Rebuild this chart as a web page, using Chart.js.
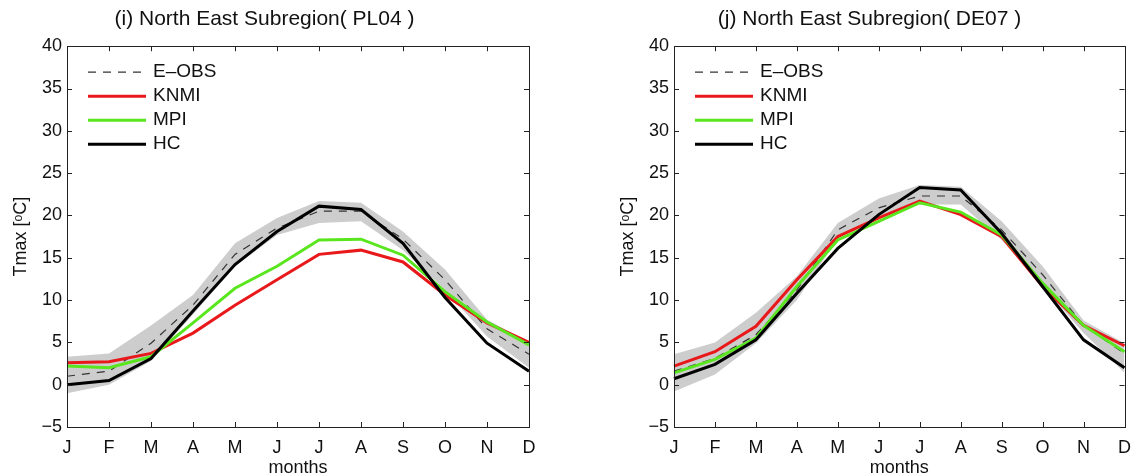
<!DOCTYPE html>
<html>
<head>
<meta charset="utf-8">
<script src="https://cdn.jsdelivr.net/npm/chart.js@4.4.1/dist/chart.umd.min.js"></script>
<style>
  html, body { margin: 0; padding: 0; background: #fff; }
  #wrap { position: relative; width: 1141px; height: 476px; overflow: hidden; }
  canvas { position: absolute; top: 0; }
  #c-left { left: 0; }
  #c-right { left: 570px; }
</style>
</head>
<body>
<div id="wrap">
  <canvas id="c-left" width="570" height="476"></canvas>
  <canvas id="c-right" width="571" height="476"></canvas>
</div>
<script>
/* Monthly Tmax climatology, North East subregion — two panels (PL04, DE07). */
const months = ['J', 'F', 'M', 'A', 'M', 'J', 'J', 'A', 'S', 'O', 'N', 'D'];
const yMin = -5, yMax = 40, yStep = 5;

// (i) PL04
const eobsPL   = [1.0, 1.6, 4.9, 9.4, 15.4, 18.5, 20.5, 20.5, 17.2, 12.4, 6.6, 3.6];
const knmiPL   = [2.6, 2.7, 3.7, 6.1, 9.4, 12.4, 15.4, 15.9, 14.5, 10.6, 7.3, 5.0];
const mpiPL    = [2.2, 2.0, 3.3, 7.3, 11.4, 14.0, 17.1, 17.2, 15.3, 11.0, 7.4, 4.7];
const hcPL     = [0.0, 0.5, 3.1, 8.7, 14.2, 18.1, 21.1, 20.7, 16.7, 10.3, 4.9, 1.6];
const bandUpPL = [3.3, 3.7, 7.0, 10.6, 16.7, 19.7, 21.7, 21.5, 18.1, 13.6, 7.7, 5.0];
const bandLoPL = [-1.0, 0.0, 2.8, 8.3, 14.0, 17.7, 19.1, 19.3, 15.9, 11.2, 5.7, 2.0];

// (j) DE07
const eobsDE   = [1.6, 3.1, 5.9, 11.2, 18.3, 20.9, 22.3, 22.3, 18.3, 13.0, 7.0, 3.7];
const knmiDE   = [2.2, 3.9, 6.9, 12.4, 17.5, 19.7, 21.7, 20.1, 17.5, 11.6, 7.0, 4.6];
const mpiDE    = [1.4, 3.0, 5.5, 11.6, 17.1, 19.3, 21.5, 20.4, 17.7, 12.0, 7.0, 3.9];
const hcDE     = [0.7, 2.4, 5.3, 10.8, 16.1, 20.1, 23.3, 23.0, 17.9, 11.6, 5.3, 2.0];
const bandUpDE = [3.6, 5.0, 8.5, 12.8, 19.1, 22.0, 23.6, 23.4, 19.3, 14.0, 7.6, 4.9];
const bandLoDE = [-0.8, 1.2, 4.9, 10.0, 17.3, 19.9, 21.3, 21.3, 17.1, 11.6, 6.1, 1.4];

Chart.defaults.font.family = "'Liberation Sans', Arial, Helvetica, sans-serif";
Chart.defaults.color = '#111';

const TXT = '#111';

// matlab-style box with inward ticks on all four sides
const boxTicks = {
  id: 'boxTicks',
  afterDatasetsDraw(chart) {
    const { ctx, chartArea: a, scales: { x, y } } = chart;
    const L = 5;
    ctx.save();
    ctx.strokeStyle = '#222';
    ctx.lineWidth = 1;
    ctx.beginPath();
    x.ticks.forEach((t, i) => {
      const px = Math.round(x.getPixelForTick(i)) + 0.5;
      ctx.moveTo(px, a.bottom); ctx.lineTo(px, a.bottom - L);
      ctx.moveTo(px, a.top); ctx.lineTo(px, a.top + L);
    });
    y.ticks.forEach((t, i) => {
      const py = Math.round(y.getPixelForTick(i)) + 0.5;
      ctx.moveTo(a.left, py); ctx.lineTo(a.left + L, py);
      ctx.moveTo(a.right, py); ctx.lineTo(a.right - L, py);
    });
    ctx.stroke();
    ctx.strokeRect(Math.round(a.left) + 0.5, Math.round(a.top) + 0.5,
      Math.round(a.right - a.left), Math.round(a.bottom - a.top));
    ctx.restore();
  }
};

// legend drawn inside the axes, top-left, from the dataset styles
const innerLegend = {
  id: 'innerLegend',
  afterDraw(chart) {
    const { ctx, chartArea: a } = chart;
    const items = chart.data.datasets.filter(d => !d.isBand);
    ctx.save();
    ctx.font = "19px 'Liberation Sans', Arial, sans-serif";
    ctx.textBaseline = 'middle';
    ctx.fillStyle = TXT;
    items.forEach((d, i) => {
      const yy = a.top + 26 + i * 24;
      ctx.strokeStyle = d.borderColor;
      ctx.lineWidth = d.borderWidth;
      ctx.setLineDash(d.borderDash || []);
      ctx.beginPath();
      ctx.moveTo(a.left + 21, yy);
      ctx.lineTo(a.left + 79, yy);
      ctx.stroke();
      ctx.setLineDash([]);
      ctx.fillText(d.label, a.left + 86, yy);
    });
    ctx.restore();
  }
};

function makePanel(canvasId, title, s, padLeft, padRight) {
  const datasets = [
    { label: 'band-up', isBand: true, data: s.up, borderWidth: 0, borderColor: 'rgba(0,0,0,0)', pointRadius: 0, fill: false, order: 5 },
    { label: 'band-lo', isBand: true, data: s.lo, borderWidth: 0, borderColor: 'rgba(0,0,0,0)', pointRadius: 0, fill: '-1', backgroundColor: '#cdcdcd', order: 4 },
    { label: 'E\u2013OBS', data: s.eobs, borderColor: '#333', borderWidth: 1.2, borderDash: [8, 7], pointRadius: 0, order: 3 },
    { label: 'KNMI', data: s.knmi, borderColor: '#e8181b', borderWidth: 3, pointRadius: 0, order: 2 },
    { label: 'MPI', data: s.mpi, borderColor: '#5ae61e', borderWidth: 3, pointRadius: 0, order: 1 },
    { label: 'HC', data: s.hc, borderColor: '#000', borderWidth: 3, pointRadius: 0, order: 0 }
  ];
  return new Chart(document.getElementById(canvasId), {
    type: 'line',
    data: { labels: months, datasets },
    options: {
      responsive: false, animation: false,
      layout: { padding: { left: padLeft, right: padRight, top: 0, bottom: 0 } },
      elements: { line: { tension: 0 } },
      scales: {
        x: {
          type: 'category', offset: false,
          grid: { display: false, drawTicks: false },
          border: { display: false },
          ticks: { color: TXT, font: { size: 18 }, padding: 10, maxRotation: 0, autoSkip: false },
          title: { display: true, text: 'months', color: TXT, font: { size: 18 }, padding: { top: 0, bottom: -3 } },
          afterFit: (sc) => { sc.height = 49; }
        },
        y: {
          min: yMin, max: yMax,
          grid: { display: false, drawTicks: false },
          border: { display: false },
          ticks: { stepSize: yStep, color: TXT, font: { size: 18 }, padding: 5,
            callback: v => String(v).replace('-', '\u2212') },
          title: { display: true, text: 'Tmax [\u1D52C]', color: TXT, font: { size: 18 }, padding: { top: 10, bottom: 0 } },
          afterFit: (sc) => { sc.width = 67; }
        }
      },
      plugins: {
        legend: { display: false },
        tooltip: { enabled: false },
        title: { display: true, text: title, color: TXT, font: { size: 21, weight: 'normal' }, padding: { top: 7, bottom: 14 } }
      }
    },
    plugins: [boxTicks, innerLegend]
  });
}

makePanel('c-left', '(i) North East Subregion( PL04 )',
  { eobs: eobsPL, knmi: knmiPL, mpi: mpiPL, hc: hcPL, up: bandUpPL, lo: bandLoPL }, 0, 41);
makePanel('c-right', '(j) North East Subregion( DE07 )',
  { eobs: eobsDE, knmi: knmiDE, mpi: mpiDE, hc: hcDE, up: bandUpDE, lo: bandLoDE }, 37, 9);
</script>
</body>
</html>
